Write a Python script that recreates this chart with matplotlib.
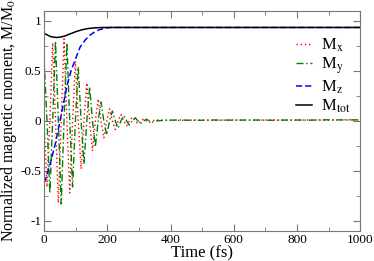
import matplotlib
matplotlib.use("Agg")
import matplotlib.pyplot as plt
from matplotlib.ticker import MultipleLocator

plt.rcParams['font.family'] = ['Liberation Serif', 'DejaVu Serif']
plt.rcParams['mathtext.fontset'] = 'stix'

# precession of Mx, My (time in fs) at quarter periods
t_xy = [0, 9, 18, 27, 36, 45, 54, 63, 72, 81, 90, 99, 108, 117, 126, 135, 144,
        153, 162, 171, 180, 189, 198, 207, 216, 225, 234, 243, 252, 261, 270,
        279, 288, 297, 306, 315, 324, 333, 342, 351, 380, 420, 480, 540, 600,
        660, 720, 780, 840, 900, 960, 1000]
m_x = [0.0, -0.66, 0.0, 0.78, 0.0, -0.82, 0.0, 0.82, 0.0, -0.72, 0.0, 0.60,
       0.0, -0.48, 0.0, 0.38, 0.0, -0.30, 0.0, 0.22, 0.0, -0.17, 0.0, 0.12,
       0.0, -0.085, 0.0, 0.063, 0.0, -0.048, 0.0, 0.037, 0.0, -0.029, 0.0,
       0.021, 0.0, -0.015, 0.0, 0.011, 0.008, 0.005, 0.01, 0.006, 0.01, 0.008,
       0.01, 0.007, 0.01, 0.008, 0.012, 0.01]
m_y = [0.62, 0.0, -0.72, 0.0, 0.80, 0.0, -0.83, 0.0, 0.78, 0.0, -0.66, 0.0,
       0.54, 0.0, -0.43, 0.0, 0.34, 0.0, -0.26, 0.0, 0.19, 0.0, -0.14, 0.0,
       0.10, 0.0, -0.072, 0.0, 0.055, 0.0, -0.042, 0.0, 0.033, 0.0, -0.025,
       0.0, 0.018, 0.0, -0.013, 0.0, 0.006, 0.01, 0.006, 0.01, 0.008, 0.01,
       0.007, 0.01, 0.008, 0.012, 0.01, 0.012]

t_z = [0, 4, 20, 36, 45, 57, 73, 85, 98, 114, 130, 146, 162, 177, 195, 210,
       300, 1000]
m_z = [-0.62, -0.59, -0.42, -0.22, -0.08, 0.11, 0.36, 0.50, 0.61, 0.74, 0.81,
       0.86, 0.895, 0.915, 0.928, 0.935, 0.935, 0.935]

t_tot = [0, 10, 20, 30, 40, 50, 60, 70, 80, 90, 100, 120, 140, 160, 180, 200,
         300, 1000]
m_tot = [0.875, 0.86, 0.845, 0.838, 0.835, 0.838, 0.845, 0.855, 0.868, 0.88,
         0.893, 0.912, 0.925, 0.931, 0.934, 0.935, 0.935, 0.935]

fig = plt.figure(figsize=(3.74, 2.61), dpi=100)
ax = fig.add_axes([0.118, 0.115, 0.845, 0.843])

ax.plot(t_xy, m_x, color='red', linestyle=(0, (1, 2)), linewidth=1.0, label=r'M$_\mathrm{x}$')
ax.plot(t_xy, m_y, color='green', linestyle=(0, (5, 2, 1, 2)), linewidth=1.0, label=r'M$_\mathrm{y}$')
ax.plot(t_z, m_z, color='blue', linestyle=(0, (4, 2)), linewidth=1.1, label=r'M$_\mathrm{z}$')
ax.plot(t_tot, m_tot, color='black', linestyle='-', linewidth=1.1, label=r'M$_\mathrm{tot}$')

ax.set_xlim(0, 1000)
ax.set_ylim(-1.1, 1.1)
ax.xaxis.set_major_locator(MultipleLocator(200))
ax.xaxis.set_minor_locator(MultipleLocator(100))
ax.yaxis.set_major_locator(MultipleLocator(0.5))
ax.yaxis.set_minor_locator(MultipleLocator(0.25))
ax.set_yticks([-1, -0.5, 0, 0.5, 1])
ax.set_yticklabels(['-1', '-0.5', '0', '0.5', '1'])
ax.tick_params(which='both', direction='in', top=True, right=True,
               color='#777777', labelsize=9.5, pad=2)
ax.tick_params(which='major', length=5)
ax.tick_params(which='minor', length=3)
for s in ax.spines.values():
    s.set_color('#777777')

ax.set_xlabel('Time (fs)', fontsize=12, labelpad=0)
ax.set_ylabel(r'Normalized magnetic moment, M/M$_0$', fontsize=11.5, labelpad=1)

ax.legend(loc='upper right', bbox_to_anchor=(1.0, 0.93), frameon=False,
          fontsize=12, handlelength=1.0, handletextpad=0.5, labelspacing=0.12,
          borderaxespad=0.2)

plt.savefig('out.png', dpi=100)
